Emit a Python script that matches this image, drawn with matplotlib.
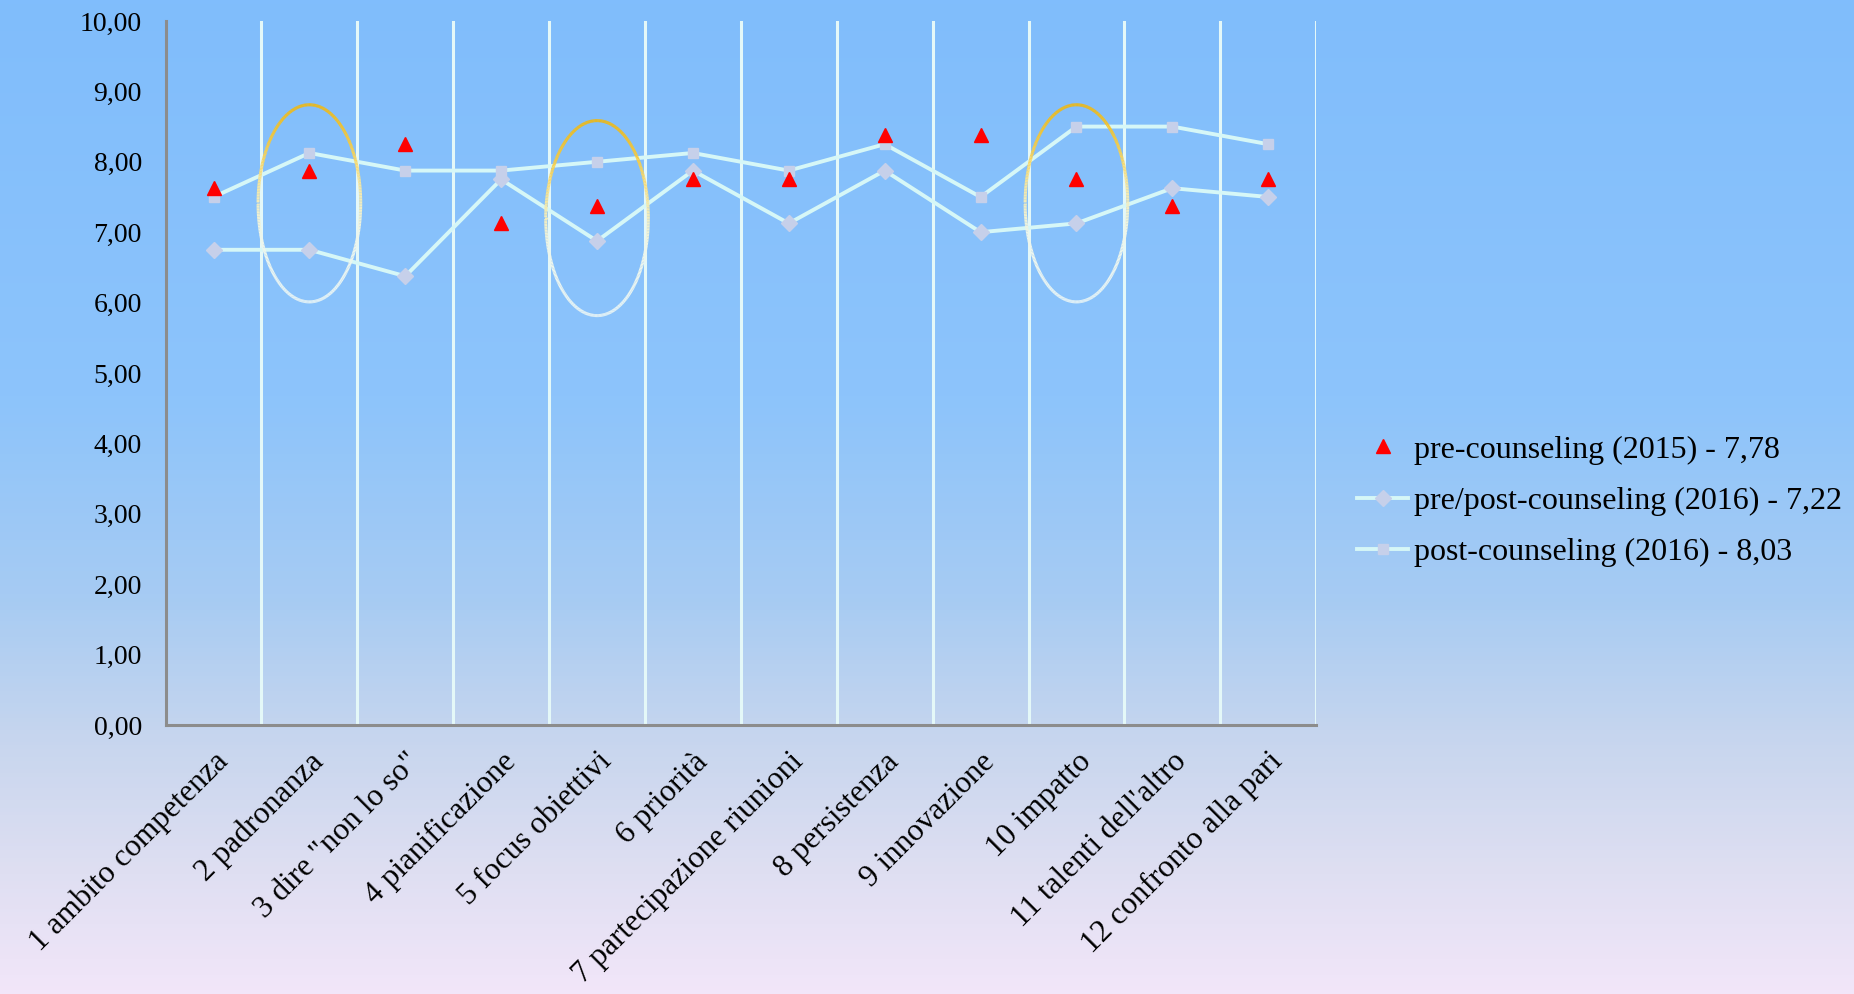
import numpy as np
import matplotlib.pyplot as plt
from matplotlib.collections import LineCollection
from matplotlib.colors import LinearSegmentedColormap
import matplotlib.transforms as mtransforms

plt.rcParams['font.family'] = ['Liberation Serif', 'DejaVu Serif']

# Punteggi medi per competenza
categories = [
    '1 ambito competenza', '2 padronanza', '3 dire "non lo so"',
    '4 pianificazione', '5 focus obiettivi', '6 priorità',
    '7 partecipazione riunioni', '8 persistenza', '9 innovazione',
    '10 impatto', "11 talenti dell'altro", '12 confronto alla pari',
]
pre_2015 = [7.625, 7.875, 8.25, 7.125, 7.375, 7.75, 7.75, 8.375, 8.375, 7.75, 7.375, 7.75]
prepost_2016 = [6.75, 6.75, 6.375, 7.75, 6.875, 7.875, 7.125, 7.875, 7.0, 7.125, 7.625, 7.5]
post_2016 = [7.5, 8.125, 7.875, 7.875, 8.0, 8.125, 7.875, 8.25, 7.5, 8.5, 8.5, 8.25]
series_names = ['pre-counseling (2015)', 'pre/post-counseling (2016)', 'post-counseling (2016)']
y_ticks = np.arange(0, 11, 1)

# competenze evidenziate con un'ellisse: (indice, centro y, altezza)
highlights = [(1, 7.41, 2.8), (4, 7.2, 2.77), (9, 7.41, 2.8)]

fig = plt.figure(figsize=(18.54, 9.94), dpi=100)

# sfondo sfumato azzurro -> lilla
bg = fig.add_axes([0, 0, 1, 1], zorder=-10)
bg_cmap = LinearSegmentedColormap.from_list('bg', [
    (0.0, '#80bdfc'), (0.4, '#8dc4fb'), (0.6, '#a6cbf3'),
    (0.75, '#c8d6ee'), (0.88, '#dfdff2'), (1.0, '#f2e6f9')])
grad = np.linspace(0, 1, 256).reshape(-1, 1)
bg.imshow(grad, cmap=bg_cmap, aspect='auto', extent=[0, 1, 0, 1])
bg.set_axis_off()

ax = fig.add_axes([0.0893, 0.2706, 0.7099 - 0.0893, 0.9789 - 0.2706])
ax.patch.set_alpha(0)
x = np.arange(len(categories))

for xv in np.arange(0.5, len(categories), 1):
    ax.axvline(xv, color='#e4f8f8', lw=2.2, zorder=1)

line_c = '#d6f7f7'
marker_c = '#c6d0ea'
ax.plot(x, prepost_2016, color=line_c, lw=2.8, marker='D', ms=8,
        mfc=marker_c, mec=marker_c, zorder=3, label=f'{series_names[1]} - 7,22')
ax.plot(x, post_2016, color=line_c, lw=2.8, marker='s', ms=7,
        mfc=marker_c, mec=marker_c, zorder=3, label=f'{series_names[2]} - 8,03')
ax.plot(x, pre_2015, linestyle='none', marker='^', ms=10, color='#ff0000',
        mec='#ff0000', zorder=4, label=f'{series_names[0]} - 7,78')

# ellissi con bordo sfumato (oro in alto, bianco in basso)
ell_cmap = LinearSegmentedColormap.from_list('ell', [
    (0.0, '#eef8f6'), (0.35, '#eef6ea'), (0.6, '#f4e6a0'), (0.8, '#f8cc40'), (1.0, '#f8b800')])
t = np.linspace(0, 2 * np.pi, 400)
for idx, cy, h in highlights:
    ex = idx + 0.535 * np.cos(t)
    ey = cy + h / 2 * np.sin(t)
    pts = np.column_stack([ex, ey]).reshape(-1, 1, 2)
    segs = np.concatenate([pts[:-1], pts[1:]], axis=1)
    lc = LineCollection(segs, cmap=ell_cmap, lw=2.2, zorder=5)
    lc.set_array((np.sin(t[:-1]) + 1) / 2)
    ax.add_collection(lc)

ax.set_xlim(-0.5, len(categories) - 0.5)
ax.set_ylim(0, 10)
ax.set_yticks(y_ticks)
ax.set_yticklabels([f'{v:.2f}'.replace('.', ',') for v in y_ticks], fontsize=20)
ax.set_xticks(x)
ax.set_xticklabels(categories, rotation=45, ha='right', va='top',
                   rotation_mode='anchor', fontsize=22.5)
shift = mtransforms.ScaledTranslation(-0.04, 0, fig.dpi_scale_trans)
for lbl in ax.get_xticklabels():
    lbl.set_transform(lbl.get_transform() + shift)
ax.tick_params(axis='both', length=0)
ax.tick_params(axis='y', pad=17)
ax.tick_params(axis='x', pad=16)

for side in ['top', 'right']:
    ax.spines[side].set_visible(False)
for side in ['left', 'bottom']:
    ax.spines[side].set_color('#8c8c8c')
    ax.spines[side].set_linewidth(2.2)

handles, labels = ax.get_legend_handles_labels()
order = [2, 0, 1]
fig.legend([handles[i] for i in order], [labels[i] for i in order],
           loc='center left', bbox_to_anchor=(1357 / 1854, 1 - 501 / 994),
           frameon=False, fontsize=23, borderpad=0, borderaxespad=0,
           handlelength=1.6, handletextpad=0.2, labelspacing=0.68)

fig.savefig('out.png', dpi=100)
